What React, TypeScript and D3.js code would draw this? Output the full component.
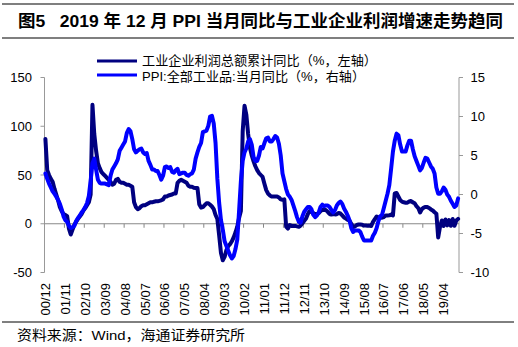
import React from 'react';
import * as d3 from 'd3';

const W = 518;
const H = 347;

// monthly series, 2000/12 .. 2019/12
const profitYoY: number[] = [
  87,
  55, 50, 46, 43, 36, 30, 24, 17, 13, 10, 9, 7.8,
  -5, -11, -6, -1, 2, 5, 7.5, 10, 13.5, 16, 19, 22,
  30, 122, 92, 75, 62, 57, 53, 51, 49, 47, 45, 43,
  40, 41, 45, 46, 43, 42, 42, 41, 40, 40, 39, 38,
  22, 17, 15, 16, 18, 19, 19, 20, 21, 22, 22, 22.6,
  23, 23, 23.5, 24, 25, 28, 28, 29, 29.5, 30, 31, 31,
  42, 44, 45, 44, 43, 42, 39, 38, 38, 37, 36.7, 36.7,
  20, 16.5, 17, 19, 21, 21, 19.5, 17.7, 15, 9, 4.9, -12,
  -30, -37.5, -34, -27, -23, -21, -18, -14, -9, -3, 6, 13,
  95, 121, 112, 92, 78, 70, 64, 59, 55, 52, 50, 48,
  41, 34.5, 31, 29, 28, 28, 28, 28, 27, 25, 24.5, 25,
  -3, -5, -1.3, -2.2, -2.4, -2.2, -2.7, -3.1, -1.8, 0.5, 3, 5.3,
  10, 13, 12, 11, 9.5, 10, 11, 13, 14, 14, 14, 12.2,
  10, 9.4, 10, 9.6, 9.8, 11, 10.5, 8.5, 6.5, 5.5, 4, 3,
  0, -3.5, -2.7, -1.3, -0.8, -0.7, -1, -1.9, -1.7, -2, -1.9, -2.3,
  2, 4.8, 7.4, 6.5, 6.4, 6.2, 6.9, 8.4, 8.4, 8.6, 9.4, 8.5,
  31, 31.5, 28, 24.4, 22.7, 22, 21.6, 21.6, 22.8, 23.3, 21.9, 21,
  18, 16.1, 11.6, 15, 16.5, 17.2, 17.1, 16.2, 14.7, 13.6, 11.8, 10.3,
  -14, -3.3, 3.4, -2.3, 4.4, -1.7, 3.7, -2.1, 4.9, -2.1, 3.3, 5,
];

const ppiYoY: number[] = [
  2.7,
  2.0, 1.4, 0.9, 0.4, 0.1, -0.3, -0.7, -1.2, -1.9, -2.8, -3.3, -3.5,
  -4.0, -4.3, -4.2, -4.0, -3.4, -3.0, -2.7, -2.3, -2.0, -1.6, -1.1, -0.2,
  1.8, 4.0, 4.6, 3.2, 1.9, 1.5, 1.4, 1.4, 1.4, 1.3, 1.2, 2.4,
  3.2, 3.6, 4.0, 4.5, 5.6, 6.0, 6.4, 6.8, 7.9, 8.4, 8.1, 7.1,
  5.8, 5.4, 5.6, 5.8, 5.9, 5.4, 5.2, 5.3, 4.3, 3.8, 3.2, 3.2,
  3.0, 3.0, 2.5, 1.9, 2.4, 3.5, 3.6, 3.4, 3.5, 2.9, 2.8, 3.1,
  3.3, 2.6, 2.7, 2.8, 2.8, 2.5, 2.4, 2.6, 2.7, 3.2, 4.6, 5.4,
  6.1, 6.6, 8.0, 8.1, 8.2, 8.8, 10.0, 10.1, 9.1, 6.6, 2.0, -1.1,
  -3.3, -4.5, -6.0, -6.6, -7.2, -7.8, -8.2, -7.9, -7.0, -5.8, -2.1, 1.7,
  4.3, 5.4, 5.9, 6.8, 7.1, 6.4, 4.8, 4.3, 4.3, 5.0, 6.1, 5.9,
  6.6, 7.2, 7.3, 6.8, 6.8, 7.1, 7.5, 7.3, 6.5, 5.0, 2.7, 1.7,
  0.7, 0.0, -0.3, -0.7, -1.4, -2.1, -2.9, -3.5, -3.6, -2.8, -2.2, -1.9,
  -1.6, -1.6, -1.9, -2.6, -2.9, -2.7, -2.3, -1.6, -1.3, -1.5, -1.4, -1.4,
  -1.6, -2.0, -2.3, -2.0, -1.4, -1.1, -0.9, -1.2, -1.8, -2.2, -2.7, -3.3,
  -4.3, -4.8, -4.6, -4.6, -4.6, -4.8, -5.4, -5.9, -5.9, -5.9, -5.9, -5.9,
  -5.3, -4.9, -4.3, -3.4, -2.8, -2.6, -1.7, -0.8, 0.1, 1.2, 3.3, 5.5,
  6.9, 7.8, 7.6, 6.4, 5.5, 5.5, 5.5, 6.3, 6.9, 6.9, 5.8, 4.9,
  4.3, 3.7, 3.1, 3.4, 4.1, 4.7, 4.6, 4.1, 3.6, 3.3, 2.7, 0.9,
  0.1, 0.1, 0.4, 0.9, 0.6, 0.0, -0.3, -0.8, -1.2, -1.6, -1.4, -0.5,
];

const categories: string[] = profitYoY.map((_, i) => {
  const m0 = 2000 * 12 + 11 + i;
  const y = Math.floor(m0 / 12);
  const m = (m0 % 12) + 1;
  return `${String(y % 100).padStart(2, '0')}/${String(m).padStart(2, '0')}`;
});

const xTickLabels = [
  '00/12', '01/11', '02/10', '03/09', '04/08', '05/07', '06/06', '07/05', '08/04', '09/03',
  '10/02', '11/01', '11/12', '12/11', '13/10', '14/09', '15/08', '16/07', '17/06', '18/05', '19/04',
];
const leftTicks = [-50, 0, 50, 100, 150];
const rightTicks = [-10, -5, 0, 5, 10, 15];

const titleText = '图5   2019 年 12 月 PPI 当月同比与工业企业利润增速走势趋同';
const legendProfit = '工业企业利润总额累计同比（%，左轴）';
const legendPPI = 'PPI:全部工业品:当月同比（%，右轴）';
const sourceText = '资料来源：Wind，海通证券研究所';

const DARK = '#000080';
const BLUE = '#0000FF';
const AXIS = '#999999';
const FONT = "'Liberation Sans', Arial, 'Noto Sans CJK SC', sans-serif";

export default function App() {
  const plotL = 44.5;
  const plotR = 459;
  const top = 77.5;
  const bottom = 272.5;

  const x = d3.scaleBand<string>().domain(categories).range([plotL, plotR]).padding(0);
  const bw = x.bandwidth();
  const cx = (c: string) => (x(c) as number) + bw / 2;
  const yL = d3.scaleLinear().domain([-50, 150]).range([bottom, top]);
  const yR = d3.scaleLinear().domain([-10, 15]).range([bottom, top]);

  const lineL = d3.line<number>().x((_, i) => cx(categories[i])).y((d) => yL(d));
  const lineR = d3.line<number>().x((_, i) => cx(categories[i])).y((d) => yR(d));

  const y0 = yL(0);
  const tickIdx: number[] = [];
  for (let k = 11; k < categories.length; k += 11) tickIdx.push(k);

  return (
    <svg width={W} height={H} style={{ position: 'absolute', left: 0, top: 0, background: '#fff' }} fontFamily={FONT}>
      {/* title */}
      <line x1={2} x2={514} y1={4} y2={4} stroke="#000" strokeWidth={1.2} />
      <text x={18} y={27} fontSize={17} fontWeight="bold" textLength={485} lengthAdjust="spacingAndGlyphs" style={{ whiteSpace: 'pre' }}>{titleText}</text>
      <line x1={2} x2={514} y1={38} y2={38} stroke="#000" strokeWidth={1.2} />

      {/* legend */}
      <line x1={97} x2={137} y1={61} y2={61} stroke={DARK} strokeWidth={3} />
      <text x={142} y={60.5} fontSize={13} dominantBaseline="central" textLength={235} lengthAdjust="spacingAndGlyphs">{legendProfit}</text>
      <line x1={97} x2={137} y1={75} y2={75} stroke={BLUE} strokeWidth={3} />
      <text x={142} y={76} fontSize={13} dominantBaseline="central" textLength={223} lengthAdjust="spacingAndGlyphs">{legendPPI}</text>

      {/* left axis */}
      <line x1={plotL} x2={plotL} y1={top} y2={bottom} stroke={AXIS} />
      {leftTicks.map((t) => (
        <g key={`l${t}`}>
          <line x1={plotL - 4} x2={plotL} y1={yL(t)} y2={yL(t)} stroke={AXIS} />
          <text x={32} y={yL(t)} fontSize={13} textAnchor="end" dominantBaseline="central">{t}</text>
        </g>
      ))}
      {/* right axis */}
      <line x1={plotR} x2={plotR} y1={top} y2={bottom} stroke={AXIS} />
      {rightTicks.map((t) => (
        <g key={`r${t}`}>
          <line x1={plotR} x2={plotR + 4} y1={yR(t)} y2={yR(t)} stroke={AXIS} />
          <text x={470.5} y={yR(t)} fontSize={13} textAnchor="start" dominantBaseline="central">{t}</text>
        </g>
      ))}

      {/* zero / category axis */}
      <line x1={plotL} x2={plotR} y1={y0} y2={y0} stroke="#888" />
      {tickIdx.map((k) => (
        <line key={`t${k}`} x1={x(categories[k]) as number} x2={x(categories[k]) as number} y1={y0} y2={y0 + 4} stroke="#888" />
      ))}

      {/* series */}
      <path d={lineL(profitYoY) || ''} fill="none" stroke={DARK} strokeWidth={4} strokeLinejoin="round" strokeLinecap="round" />
      <path d={lineR(ppiYoY) || ''} fill="none" stroke={BLUE} strokeWidth={4} strokeLinejoin="round" strokeLinecap="round" />

      {/* x labels */}
      {xTickLabels.map((lab) => (
        <text key={lab} transform={`translate(${cx(lab)},283) rotate(-90)`} fontSize={13} textAnchor="end" dy="0.35em">{lab}</text>
      ))}

      {/* source */}
      <line x1={2} x2={514} y1={322} y2={322} stroke="#000" strokeWidth={1} />
      <text x={17} y={339.5} fontSize={13.5} textLength={228} lengthAdjust="spacingAndGlyphs">{sourceText}</text>
    </svg>
  );
}
